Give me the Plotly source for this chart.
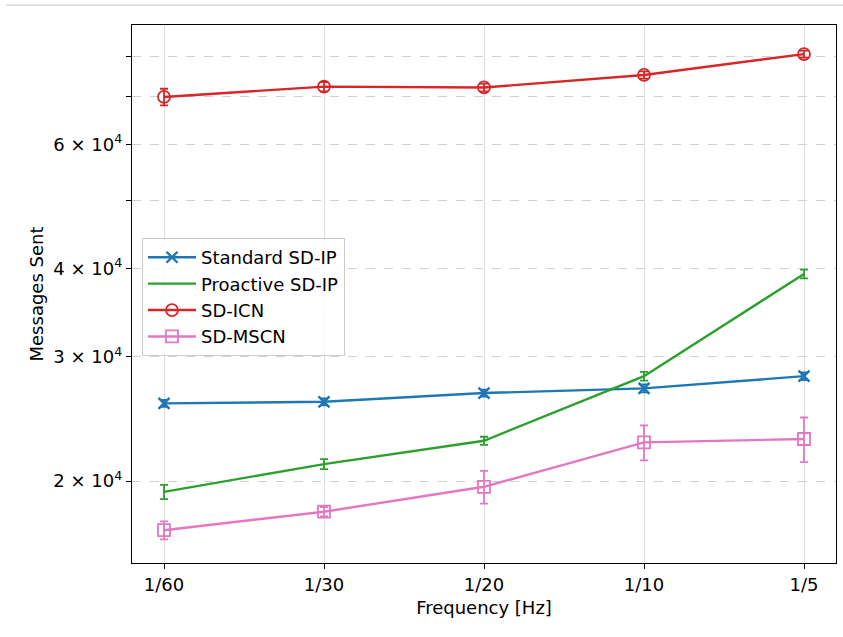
import plotly.graph_objects as go

# Update frequency categories
freq_labels = ["1/60", "1/30", "1/20", "1/10", "1/5"]

# Mean messages sent per scheme
standard_sdip = [25770, 25900, 26650, 27060, 28160]
proactive_sdip = [19310, 21140, 22810, 28160, 39300]
sd_icn = [70000, 72400, 72200, 75200, 80500]
sd_mscn = [17040, 18100, 19630, 22690, 22940]

# Error bar half-widths
standard_sdip_err = [300, 300, 300, 350, 350]
proactive_sdip_err = [450, 350, 300, 400, 550]
sd_icn_err = [1900, 1100, 900, 900, 900]
sd_mscn_err = [500, 280, 1050, 1290, 1670]

# Y axis ticks (log scale): labelled ones and unlabelled minor ones
y_tickvals = [20000, 30000, 40000, 60000]
y_ticktext = ["2 × 10<sup>4</sup>", "3 × 10<sup>4</sup>", "4 × 10<sup>4</sup>",
              "6 × 10<sup>4</sup>"]
y_minor_tickvals = [50000, 70000, 80000]

FONT = "DejaVu Sans"
FS = 18
x_idx = list(range(len(freq_labels)))

series = [
    ("Standard SD-IP", standard_sdip, standard_sdip_err, "#1f77b4",
     dict(symbol="x-thin", size=11, line=dict(width=2.4, color="#1f77b4")), "lines+markers"),
    ("Proactive SD-IP", proactive_sdip, proactive_sdip_err, "#2ca02c", None, "lines"),
    ("SD-ICN", sd_icn, sd_icn_err, "#d62728",
     dict(symbol="circle-open", size=12, line=dict(width=1.8, color="#d62728")), "lines+markers"),
    ("SD-MSCN", sd_mscn, sd_mscn_err, "#e377c2",
     dict(symbol="square-open", size=12, line=dict(width=1.8, color="#e377c2")), "lines+markers"),
]

fig = go.Figure()
for name, vals, errs, color, marker, mode in series:
    kw = dict(marker=marker) if marker else {}
    fig.add_trace(go.Scatter(
        x=x_idx, y=vals, name=name, mode=mode,
        line=dict(color=color, width=2.4),
        error_y=dict(type="data", array=errs, visible=True, color=color,
                     thickness=1.8, width=4),
        **kw,
    ))

fig.update_layout(
    width=843, height=637,
    margin=dict(l=132, r=7, t=25, b=74),
    paper_bgcolor="white", plot_bgcolor="white",
    font=dict(family=FONT, size=FS, color="#000000"),
    showlegend=True,
    legend=dict(
        x=0.0142, y=0.604, xanchor="left", yanchor="top",
        bgcolor="rgba(255,255,255,0.8)", bordercolor="#cccccc", borderwidth=1,
        font=dict(family=FONT, size=FS), tracegroupgap=0, itemwidth=48,
    ),
    shapes=[dict(type="line", xref="paper", yref="paper",
                 x0=-0.179, x1=1.01, y0=1.037, y1=1.037,
                 line=dict(color="#d9d9d9", width=1.5))],
)

fig.update_xaxes(
    range=[-0.2, 4.2],
    tickmode="array", tickvals=x_idx, ticktext=freq_labels,
    showgrid=True, gridcolor="#dcdcdc", gridwidth=1.2,
    showline=True, linecolor="#000000", linewidth=1.3, mirror=True,
    ticks="outside", ticklen=5, tickcolor="#000000",
    tickfont=dict(family=FONT, size=FS),
    title=dict(text="Frequency [Hz]", font=dict(family=FONT, size=FS), standoff=7),
    zeroline=False,
)

fig.update_yaxes(
    type="log",
    range=[4.185, 4.947],
    tickmode="array", tickvals=y_tickvals, ticktext=y_ticktext,
    showgrid=True, gridcolor="#d0d0d0", gridwidth=1.2, griddash="dash",
    showline=True, linecolor="#000000", linewidth=1.3, mirror=True,
    ticks="outside", ticklen=5, tickcolor="#000000",
    tickfont=dict(family=FONT, size=FS),
    minor=dict(tickmode="array", tickvals=y_minor_tickvals, ticks="outside",
               ticklen=5, tickcolor="#000000", showgrid=True,
               gridcolor="#d0d0d0", gridwidth=1.2, griddash="dash"),
    title=dict(text="Messages Sent", font=dict(family=FONT, size=FS), standoff=5),
    zeroline=False,
)

fig.write_html("out.html")
